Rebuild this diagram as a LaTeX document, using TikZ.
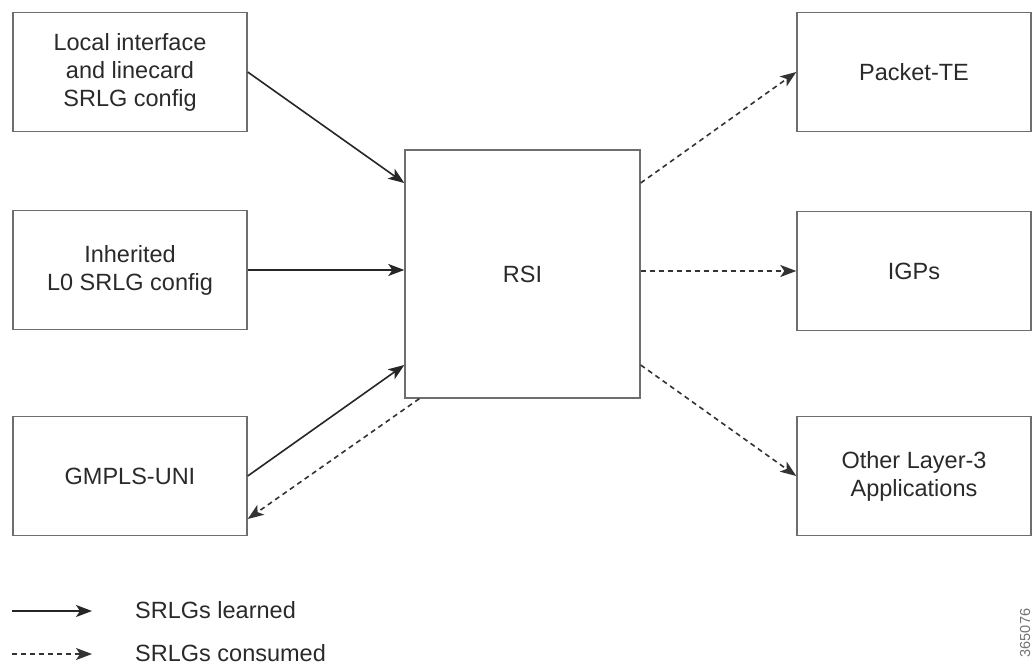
\documentclass[tikz,border=0pt]{standalone}
\usepackage{fontspec}
\setmainfont{Liberation Sans}
\usetikzlibrary{arrows.meta,calc}
\definecolor{boxline}{HTML}{6E6E6E}
\definecolor{txt}{HTML}{2A2A2A}
\tikzset{
  box/.style={draw=boxline, line width=1.4pt, rectangle, inner sep=0pt, minimum width=234pt, minimum height=119pt, align=center, text=txt, font=\fontsize{23.5}{28}\selectfont},
  learned/.style={draw=black!85, line width=1.6pt, -{Stealth[length=16pt,width=12pt,inset=4pt]}},
  consumed/.style={draw=black!80, line width=1.6pt, dash pattern=on 5pt off 4pt, -{Stealth[length=16pt,width=12pt,inset=4pt]}},
  legtext/.style={anchor=west, inner sep=0pt, text=txt, font=\fontsize{23.5}{28}\selectfont}
}
\begin{document}
\begin{tikzpicture}[x=1pt,y=-1pt]
\useasboundingbox (0,0) rectangle (1032,666);
\node[box] (b1) at (130,72) {Local interface\\and linecard\\SRLG config};
\node[box] (b2) at (130,270) {Inherited\\L0 SRLG config};
\node[box] (b3) at (130,476) {GMPLS-UNI};
\node[box, minimum width=235pt, minimum height=248pt] (rsi) at (522.5,274) {RSI};
\node[box] (p1) at (914,72) {Packet-TE};
\node[box] (p2) at (914,271) {IGPs};
\node[box] (p3) at (914,476) {Other Layer-3\\Applications};

\draw[learned] (b1.east) -- ([yshift=91pt]rsi.west);
\draw[learned] (b2.east) -- (rsi.west |- b2.east);
\draw[learned] (b3.east) -- ([yshift=-91pt]rsi.west);
\draw[consumed] ([xshift=15pt]rsi.south west) -- ([yshift=-43pt]b3.east);
\draw[consumed] ([yshift=91pt]rsi.east) -- (p1.west);
\draw[consumed] (rsi.east |- p2.west) -- (p2.west);
\draw[consumed] ([yshift=-91pt]rsi.east) -- (p3.west);

\coordinate (la) at (12,611);
\coordinate (lb) at (92,611);
\coordinate (lc) at (12,654);
\coordinate (ld) at (92,654);
\draw[learned] (la) -- (lb);
\draw[consumed] (lc) -- (ld);
\node[legtext] (t1) at (135,610) {SRLGs learned};
\node[legtext] (t2) at (135,653) {SRLGs consumed};
\node[rotate=90, text=black!55, font=\fontsize{14.5}{15}\selectfont, inner sep=0pt] (num) at (1025,633) {365076};
\end{tikzpicture}
\end{document}
